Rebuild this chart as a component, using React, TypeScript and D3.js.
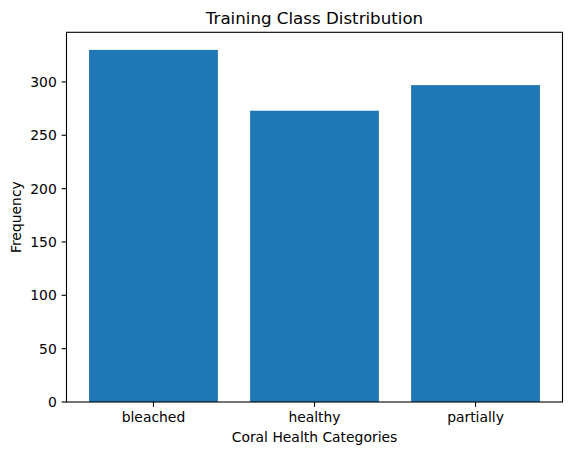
import React from "react";
import * as d3 from "d3";

const categories = ["bleached", "healthy", "partially"];
const counts = [330, 273, 297];
const yTicks = [0, 50, 100, 150, 200, 250, 300];

const W = 571;
const H = 455;
const left = 66.5;
const right = 562.5;
const top = 32.3;
const bottom = 402;
const font = "'DejaVu Sans', sans-serif";
const fs = 13.9;

export default function App() {
  const x = d3.scaleLinear().domain([-0.54, 2.54]).range([left, right]);
  const ymax = (d3.max(counts) as number) * 1.05;
  const y = d3.scaleLinear().domain([0, ymax]).range([bottom, top]);
  const bw = x(0.8) - x(0);
  return (
    <svg width={W} height={H} style={{ position: "absolute", left: 0, top: 0, background: "#fff" }}>
      <rect x={0} y={0} width={W} height={H} fill="#fff" />
      {counts.map((c, i) => (
        <rect key={i} x={x(i - 0.4)} y={y(c)} width={bw} height={y(0) - y(c)} fill="#1f77b4" />
      ))}
      <rect x={left} y={top} width={right - left} height={bottom - top} fill="none" stroke="#000" strokeWidth={1.1} />
      {yTicks.map((t) => (
        <g key={t}>
          <line x1={left - 4.86} x2={left} y1={y(t)} y2={y(t)} stroke="#000" strokeWidth={1.1} />
          <text x={left - 9.7} y={y(t)} dy="0.36em" textAnchor="end" fontFamily={font} fontSize={fs} fill="#000">
            {t}
          </text>
        </g>
      ))}
      {categories.map((c, i) => (
        <g key={c}>
          <line x1={x(i)} x2={x(i)} y1={bottom} y2={bottom + 4.86} stroke="#000" strokeWidth={1.1} />
          <text x={x(i)} y={bottom + 9.7} dy="0.76em" textAnchor="middle" fontFamily={font} fontSize={fs} fill="#000">
            {c}
          </text>
        </g>
      ))}
      <text x={(left + right) / 2} y={441.5} textAnchor="middle" fontFamily={font} fontSize={fs} fill="#000">
        Coral Health Categories
      </text>
      <text
        transform={`translate(21, ${(top + bottom) / 2}) rotate(-90)`}
        textAnchor="middle"
        fontFamily={font}
        fontSize={fs}
        fill="#000"
      >
        Frequency
      </text>
      <text x={(left + right) / 2} y={24} textAnchor="middle" fontFamily={font} fontSize={16.67} fill="#000">
        Training Class Distribution
      </text>
    </svg>
  );
}
